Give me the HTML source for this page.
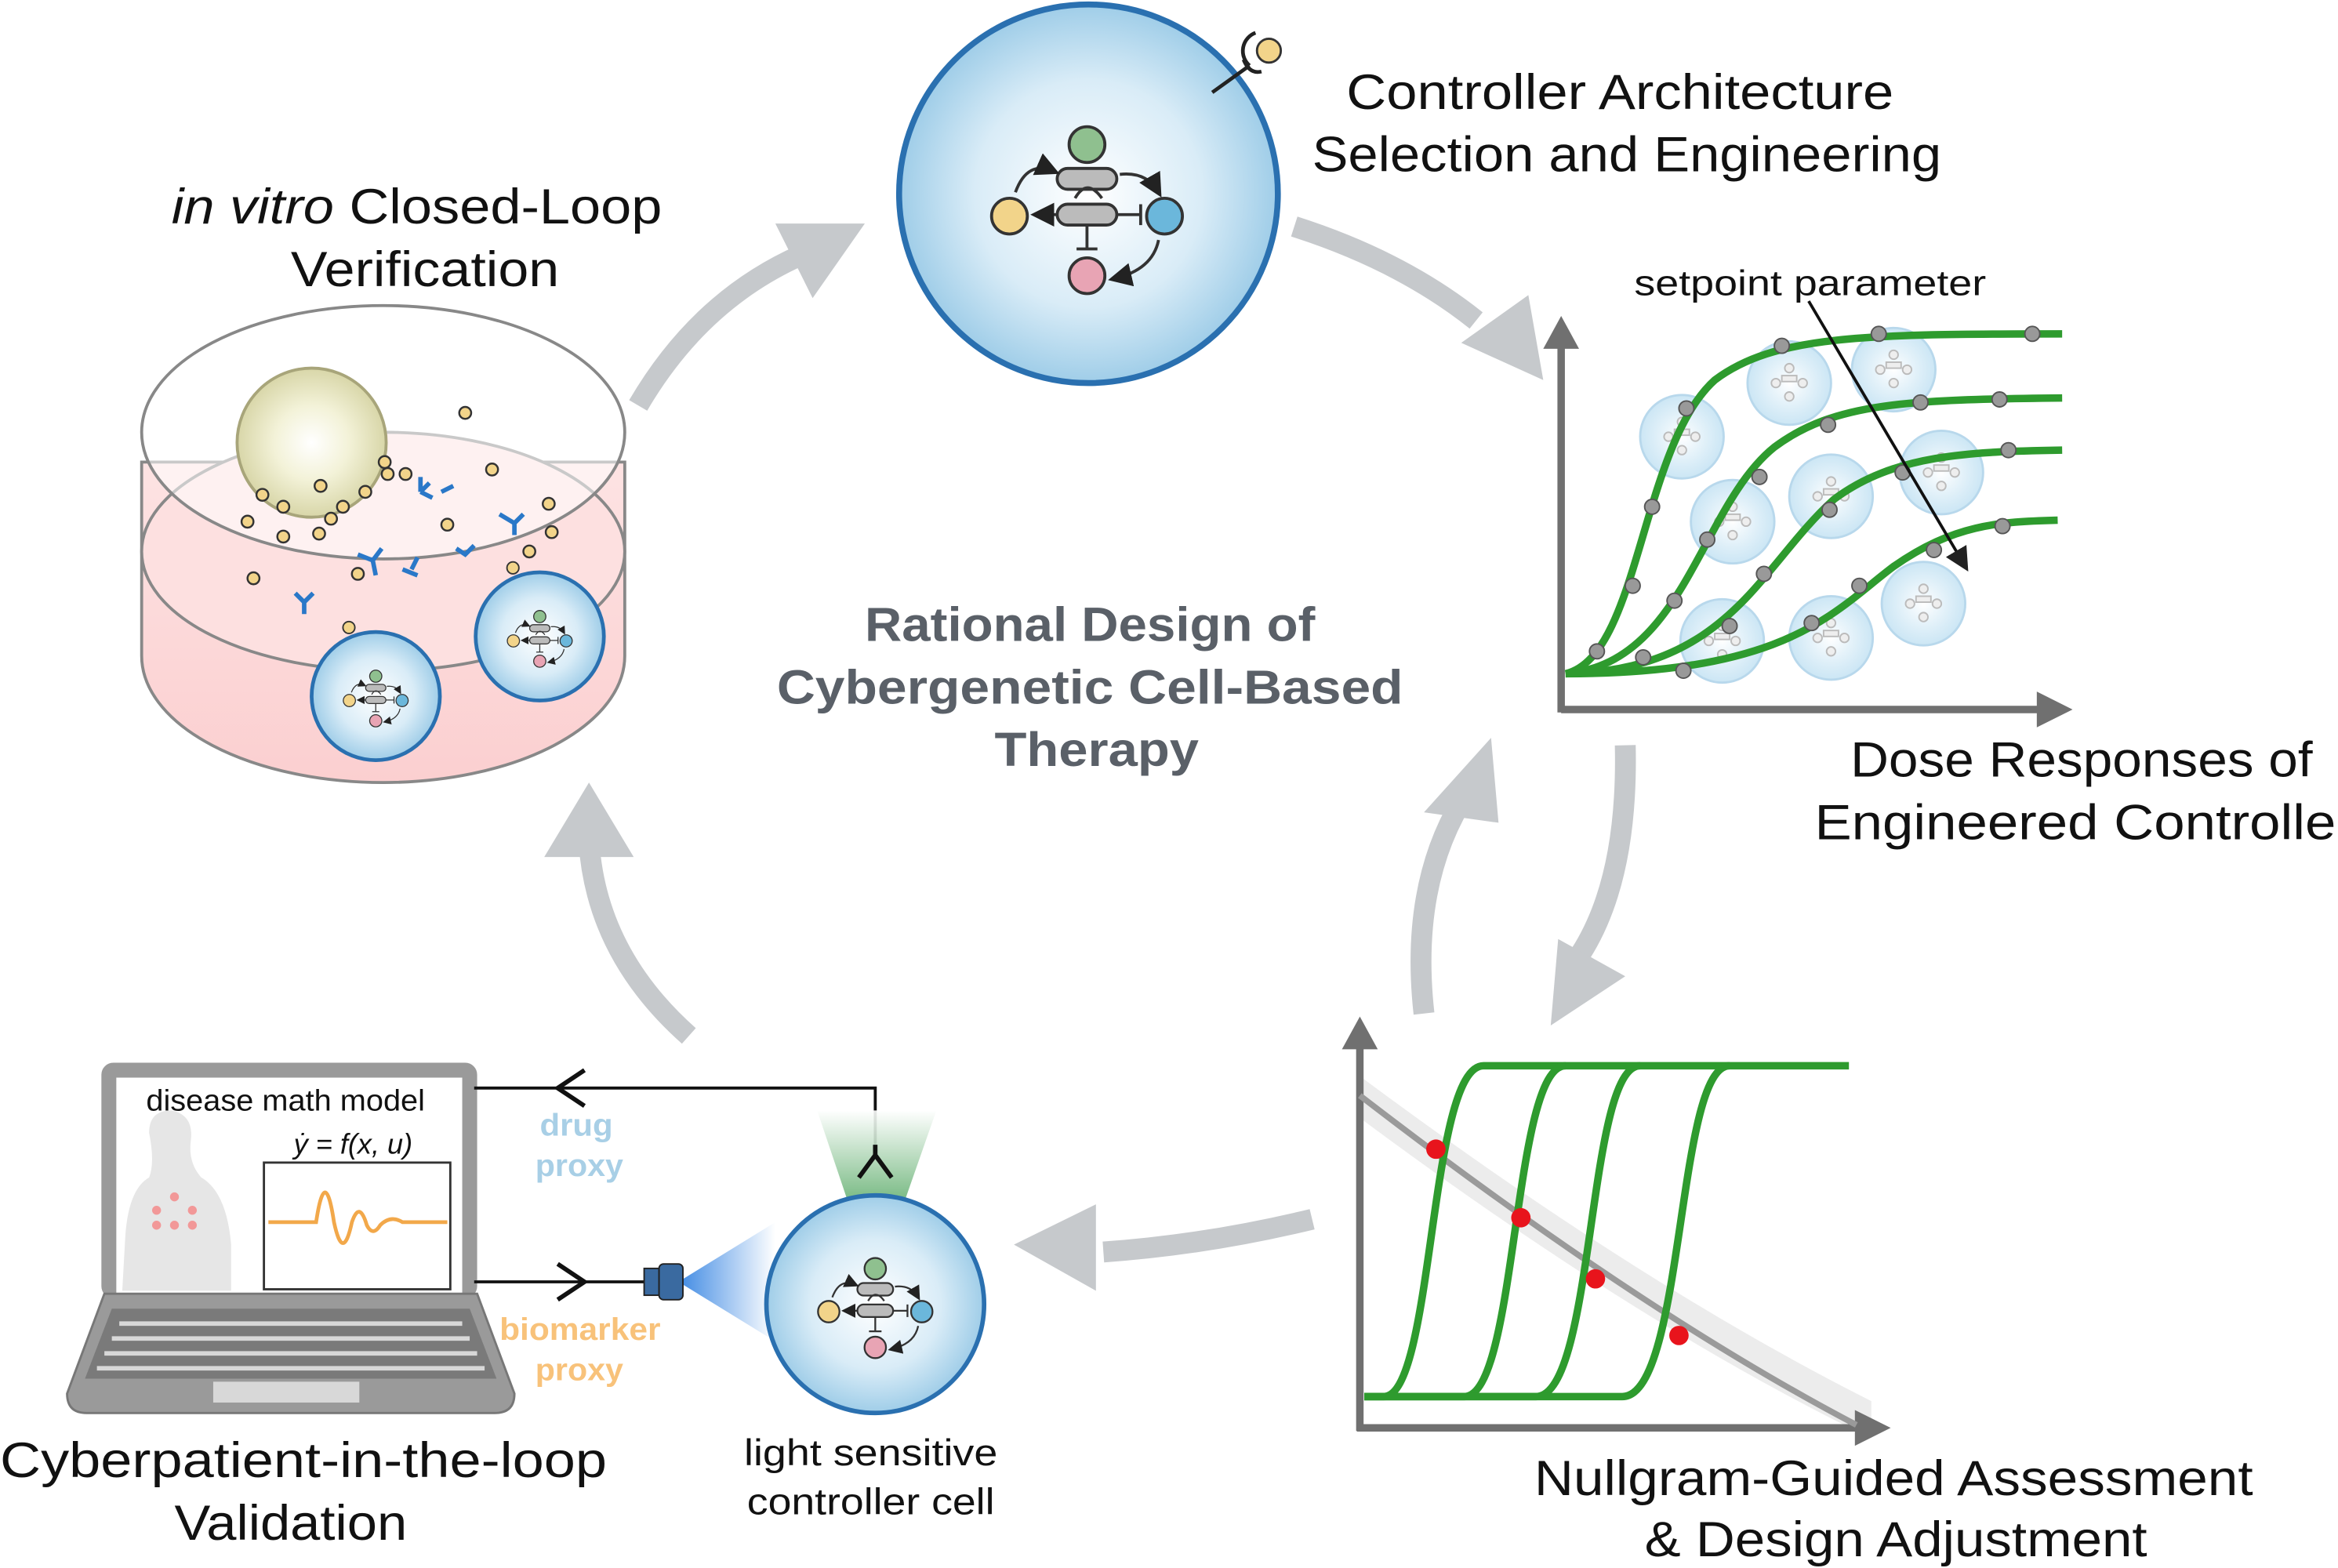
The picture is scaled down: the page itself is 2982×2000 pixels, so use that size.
<!DOCTYPE html>
<html><head><meta charset="utf-8"><style>
html,body{margin:0;padding:0;background:#fff;}
svg{display:block;}
text{font-family:"Liberation Sans",sans-serif;}
</style></head><body>
<svg width="2982" height="2000" viewBox="0 0 1568 1052" preserveAspectRatio="none" xmlns="http://www.w3.org/2000/svg">
<defs>
<radialGradient id="cg" cx="50%" cy="50%" r="50%"><stop offset="0" stop-color="#ffffff"/><stop offset="0.6" stop-color="#d9ecf7"/><stop offset="1" stop-color="#9fcde8"/></radialGradient>
<radialGradient id="fg" cx="50%" cy="50%" r="50%"><stop offset="0" stop-color="#ffffff" stop-opacity="0.9"/><stop offset="1" stop-color="#bfe0f2" stop-opacity="0.8"/></radialGradient>
<radialGradient id="nuc" cx="50%" cy="50%" r="50%"><stop offset="0" stop-color="#ffffff"/><stop offset="0.5" stop-color="#f3f2d8"/><stop offset="1" stop-color="#d8d6a8"/></radialGradient>
<linearGradient id="dish" x1="0" y1="0" x2="0" y2="1"><stop offset="0" stop-color="#fde3e3"/><stop offset="1" stop-color="#fbcfd0"/></linearGradient>
<linearGradient id="beam" x1="0" y1="0" x2="0" y2="1"><stop offset="0" stop-color="#ffffff"/><stop offset="1" stop-color="#3a9a4a"/></linearGradient>
<linearGradient id="beam2" x1="1" y1="0" x2="0" y2="0"><stop offset="0" stop-color="#ffffff"/><stop offset="1" stop-color="#2a7de0"/></linearGradient>
<marker id="ah" markerWidth="8" markerHeight="8" refX="6" refY="4" orient="auto"><path d="M0,0 L8,4 L0,8 z" fill="#222"/></marker>
<g id="net">
<circle cx="0" cy="-48" r="12" fill="#8fc08f" stroke="#333" stroke-width="2"/>
<circle cx="-52" cy="0" r="12" fill="#f2d48a" stroke="#333" stroke-width="2"/>
<circle cx="52" cy="0" r="12" fill="#6bb7db" stroke="#333" stroke-width="2"/>
<circle cx="0" cy="40" r="12" fill="#e8a4b4" stroke="#333" stroke-width="2"/>
<rect x="-20" y="-32" width="40" height="14" rx="7" fill="#bbb" stroke="#333" stroke-width="2"/>
<rect x="-20" y="-8" width="40" height="14" rx="7" fill="#bbb" stroke="#333" stroke-width="2"/>
<path d="M-20,-1 L-34,-1" stroke="#333" stroke-width="2" marker-end="url(#ah)"/>
<path d="M20,-1 L36,-1 M36,-8 L36,6" stroke="#333" stroke-width="2"/>
<path d="M0,6 L0,22 M-7,22 L7,22" stroke="#333" stroke-width="2"/>
<path d="M-48,-16 Q-40,-38 -22,-30" fill="none" stroke="#333" stroke-width="2" marker-end="url(#ah)"/>
<path d="M22,-28 Q40,-30 48,-16" fill="none" stroke="#333" stroke-width="2" marker-end="url(#ah)"/>
<path d="M48,16 Q44,36 18,42" fill="none" stroke="#333" stroke-width="2" marker-end="url(#ah)"/>
<path d="M-8,-12 Q0,-26 10,-12" fill="none" stroke="#333" stroke-width="2"/>
</g>
<g id="mini"><circle r="28" fill="url(#fg)" stroke="#b8d8ec" stroke-width="1.5"/>
<g stroke="#bbb" fill="#eee" stroke-width="1"><circle cx="0" cy="-10" r="3"/><circle cx="-9" cy="0" r="3"/><circle cx="9" cy="0" r="3"/><circle cx="0" cy="9" r="3"/><rect x="-5" y="-5" width="10" height="4"/></g></g>
</defs>
<rect width="1568" height="1052" fill="#fff"/>

<g fill="none" stroke="#c6c9cc" stroke-width="14">
<path d="M428,272 Q470,200 540,170"/>
<path d="M868,152 Q940,175 990,215"/>
<path d="M1090,500 Q1092,590 1060,640"/>
<path d="M955,680 Q945,590 985,530"/>
<path d="M880,818 Q810,835 740,840"/>
<path d="M462,695 Q400,640 395,565"/>
</g>
<g fill="#c6c9cc">
<polygon points="580,150 520,150 545,200"/>
<polygon points="1035,255 980,230 1025,198"/>
<polygon points="1040,688 1045,630 1090,655"/>
<polygon points="1000,495 955,545 1005,552"/>
<polygon points="680,835 735,808 735,866"/>
<polygon points="395,525 365,575 425,575"/>
</g>

<circle cx="730" cy="130" r="127" fill="url(#cg)" stroke="#2a70b0" stroke-width="4"/>
<use href="#net" transform="translate(729,145)"/>
<line x1="813" y1="62" x2="838" y2="44" stroke="#222" stroke-width="2.5"/>
<path d="M834,40 Q838,50 846,48" fill="none" stroke="#222" stroke-width="2.5"/>
<circle cx="851" cy="34" r="8" fill="#f2d48a" stroke="#333" stroke-width="1.5"/>
<path d="M838,44 a13,13 0 0 1 4,-22" fill="none" stroke="#222" stroke-width="2.5"/>
<text x="903" y="73" font-size="33" textLength="367" lengthAdjust="spacingAndGlyphs" fill="#111">Controller Architecture</text>
<text x="880" y="115" font-size="33" textLength="422" lengthAdjust="spacingAndGlyphs" fill="#111">Selection and Engineering</text>

<path d="M95,310 L95,440 A162,85 0 0 0 419,440 L419,310 Z" fill="url(#dish)" stroke="#888" stroke-width="2"/>
<ellipse cx="257" cy="370" rx="162" ry="80" fill="#fde0e0" stroke="#888" stroke-width="2"/>
<ellipse cx="257" cy="290" rx="162" ry="85" fill="#fff" fill-opacity="0.55" stroke="#888" stroke-width="2"/>
<circle cx="209" cy="297" r="50" fill="url(#nuc)" stroke="#a8a57a" stroke-width="2"/>
<g fill="#f2d48a" stroke="#333" stroke-width="1.3">
<circle cx="312" cy="277" r="4"/><circle cx="176" cy="332" r="4"/><circle cx="190" cy="340" r="4"/><circle cx="215" cy="326" r="4"/><circle cx="230" cy="340" r="4"/><circle cx="245" cy="330" r="4"/><circle cx="260" cy="318" r="4"/><circle cx="166" cy="350" r="4"/><circle cx="190" cy="360" r="4"/><circle cx="214" cy="358" r="4"/><circle cx="222" cy="348" r="4"/><circle cx="258" cy="310" r="4"/><circle cx="272" cy="318" r="4"/><circle cx="330" cy="315" r="4"/><circle cx="368" cy="338" r="4"/><circle cx="370" cy="357" r="4"/><circle cx="355" cy="370" r="4"/><circle cx="170" cy="388" r="4"/><circle cx="240" cy="385" r="4"/><circle cx="300" cy="352" r="4"/>
</g>
<g stroke="#2a78c8" stroke-width="3" fill="none">
<path d="M282,330 l6,-6 m-6,6 l8,4 m-8,-4 l0,-10"/><path d="M335,345 l10,6 l6,-6 m-6,6 l0,8"/>
<path d="M240,372 l10,4 l6,-8 m-6,8 l2,10"/><path d="M270,382 l10,4 m-4,-4 l4,-8"/>
<path d="M306,368 l6,4 l6,-6"/><path d="M198,398 l6,6 l6,-6 m-6,6 l0,8"/><path d="M296,330 l8,-4"/>
</g>
<circle cx="252" cy="467" r="43" fill="url(#cg)" stroke="#2a70b0" stroke-width="2.5"/>
<use href="#net" transform="translate(252,470) scale(0.34)"/>
<circle cx="362" cy="427" r="43" fill="url(#cg)" stroke="#2a70b0" stroke-width="2.5"/>
<use href="#net" transform="translate(362,430) scale(0.34)"/>
<circle cx="234" cy="421" r="4" fill="#f2d48a" stroke="#333"/><circle cx="344" cy="381" r="4" fill="#f2d48a" stroke="#333"/>
<text x="115" y="150" font-size="33" textLength="329" lengthAdjust="spacingAndGlyphs" fill="#111"><tspan font-style="italic">in vitro</tspan> Closed-Loop</text>
<text x="195" y="192" font-size="33" textLength="180" lengthAdjust="spacingAndGlyphs" fill="#111">Verification</text>

<g font-size="32" font-weight="bold" fill="#5a6068">
<text x="580" y="430" textLength="302" lengthAdjust="spacingAndGlyphs">Rational Design of</text>
<text x="521" y="472" textLength="420" lengthAdjust="spacingAndGlyphs">Cybergenetic Cell-Based</text>
<text x="667" y="514" textLength="137" lengthAdjust="spacingAndGlyphs">Therapy</text>
</g>

<g stroke="#707070" stroke-width="5" fill="none"><path d="M1047,478 L1047,230"/><path d="M1047,476 L1370,476"/></g>
<polygon points="1047,212 1035,234 1059,234" fill="#707070"/>
<polygon points="1390,476 1366,464 1366,488" fill="#707070"/>
<use href="#mini" transform="translate(1128,293)"/><use href="#mini" transform="translate(1200,257)"/><use href="#mini" transform="translate(1270,248)"/>
<use href="#mini" transform="translate(1162,350)"/><use href="#mini" transform="translate(1228,333)"/><use href="#mini" transform="translate(1302,317)"/>
<use href="#mini" transform="translate(1155,430)"/><use href="#mini" transform="translate(1228,428)"/><use href="#mini" transform="translate(1290,405)"/>
<g stroke="#2e9b2e" stroke-width="5" fill="none">
<path d="M1050,452 C1100,440 1100,300 1150,255 C1190,225 1250,224 1383,224"/>
<path d="M1050,452 C1130,445 1140,340 1190,300 C1230,270 1280,268 1383,267"/>
<path d="M1050,452 C1160,450 1180,380 1230,335 C1270,305 1320,303 1383,302"/>
<path d="M1050,452 C1200,452 1230,410 1270,380 C1310,352 1340,350 1380,349"/>
</g>
<g fill="#999" stroke="#555" stroke-width="1">
<circle cx="1071" cy="437" r="5"/><circle cx="1095" cy="393" r="5"/><circle cx="1108" cy="340" r="5"/><circle cx="1131" cy="274" r="5"/><circle cx="1195" cy="232" r="5"/><circle cx="1260" cy="224" r="5"/><circle cx="1363" cy="224" r="5"/>
<circle cx="1102" cy="441" r="5"/><circle cx="1123" cy="403" r="5"/><circle cx="1145" cy="362" r="5"/><circle cx="1180" cy="320" r="5"/><circle cx="1226" cy="285" r="5"/><circle cx="1288" cy="270" r="5"/><circle cx="1341" cy="268" r="5"/>
<circle cx="1129" cy="450" r="5"/><circle cx="1160" cy="420" r="5"/><circle cx="1183" cy="385" r="5"/><circle cx="1227" cy="342" r="5"/><circle cx="1276" cy="317" r="5"/><circle cx="1347" cy="302" r="5"/>
<circle cx="1215" cy="418" r="5"/><circle cx="1247" cy="393" r="5"/><circle cx="1297" cy="369" r="5"/><circle cx="1343" cy="353" r="5"/>
</g>
<line x1="1213" y1="202" x2="1318" y2="380" stroke="#111" stroke-width="2" marker-end="url(#ah)"/>
<text x="1096" y="198" font-size="24" textLength="236" lengthAdjust="spacingAndGlyphs" fill="#111">setpoint parameter</text>
<text x="1241" y="521" font-size="33" textLength="310" lengthAdjust="spacingAndGlyphs" fill="#111">Dose Responses of</text>
<text x="1217" y="563" font-size="33" textLength="362" lengthAdjust="spacingAndGlyphs" fill="#111">Engineered Controller</text>

<path d="M912,722 Q1100,862 1255,940 L1255,965 Q1100,890 912,750 Z" fill="#ececec"/>
<g stroke="#707070" stroke-width="5" fill="none"><path d="M912,960 L912,700"/><path d="M910,958 L1248,958"/></g>
<polygon points="912,682 900,704 924,704" fill="#707070"/>
<polygon points="1268,958 1244,946 1244,970" fill="#707070"/>
<path d="M912,735 Q1100,880 1245,956" stroke="#9a9a9a" stroke-width="4" fill="none"/>
<g stroke="#2e9b2e" stroke-width="5" fill="none">
<path d="M915,937 L928,937 C962,937 958,715 995,715 L1240,715"/>
<path d="M915,937 L982,937 C1018,937 1014,715 1050,715"/>
<path d="M915,937 L1030,937 C1070,937 1064,715 1100,715"/>
<path d="M915,937 L1088,937 C1130,937 1124,715 1160,715"/>
</g>
<g fill="#e8141c"><circle cx="963" cy="771" r="6.5"/><circle cx="1020" cy="817" r="6.5"/><circle cx="1070" cy="858" r="6.5"/><circle cx="1126" cy="896" r="6.5"/></g>
<text x="1029" y="1003" font-size="33" textLength="482" lengthAdjust="spacingAndGlyphs" fill="#111">Nullgram-Guided Assessment</text>
<text x="1103" y="1044" font-size="33" textLength="337" lengthAdjust="spacingAndGlyphs" fill="#111">&amp; Design Adjustment</text>

<rect x="68" y="713" width="252" height="158" rx="8" fill="#9a9a9a"/>
<rect x="78" y="723" width="232" height="145" fill="#fff"/>
<path d="M70,868 L320,868 L345,935 Q345,948 332,948 L58,948 Q45,948 45,935 Z" fill="#9a9a9a" stroke="#777" stroke-width="1.5"/>
<path d="M75,878 L315,878 L333,925 L57,925 Z" fill="#7a7a7a"/>
<g stroke="#d8d8d8" stroke-width="3"><path d="M80,888 L310,888 M75,898 L315,898 M70,908 L320,908 M65,918 L325,918"/></g>
<rect x="143" y="927" width="98" height="14" fill="#d8d8d8"/>
<path d="M100,760 Q100,745 115,745 Q130,748 128,765 Q126,780 135,790 Q152,800 155,835 L155,866 L82,866 L84,830 Q86,798 100,790 Q104,780 100,760 Z" fill="#e6e6e6"/>
<g fill="#f29898"><circle cx="105" cy="812" r="3"/><circle cx="117" cy="803" r="3"/><circle cx="117" cy="822" r="3"/><circle cx="129" cy="812" r="3"/><circle cx="105" cy="822" r="3"/><circle cx="129" cy="822" r="3"/></g>
<rect x="177" y="780" width="125" height="85" fill="#fff" stroke="#333" stroke-width="1.5"/>
<path d="M180,820 L212,820 Q218,780 224,820 Q230,848 236,820 Q241,805 246,822 Q250,830 255,822 Q262,815 270,820 L300,820" fill="none" stroke="#f2a84a" stroke-width="2.5"/>
<text x="98" y="745" font-size="20" textLength="187" lengthAdjust="spacingAndGlyphs" fill="#111">disease math model</text>
<text x="197" y="774" font-size="19" font-style="italic" fill="#111" font-family="Liberation Serif,serif">ẏ = f(x, u)</text>

<path d="M318,730 L587,730 L587,768" fill="none" stroke="#111" stroke-width="2"/>
<path d="M392,718 L374,730 L392,742" fill="none" stroke="#111" stroke-width="3"/>
<path d="M318,860 L432,860" fill="none" stroke="#111" stroke-width="2"/>
<path d="M374,848 L392,860 L374,872" fill="none" stroke="#111" stroke-width="3"/>
<text x="362" y="762" font-size="21" font-weight="bold" textLength="49" lengthAdjust="spacingAndGlyphs" fill="#a8cfe6">drug</text>
<text x="359" y="789" font-size="21" font-weight="bold" textLength="59" lengthAdjust="spacingAndGlyphs" fill="#a8cfe6">proxy</text>
<text x="335" y="899" font-size="21" font-weight="bold" textLength="108" lengthAdjust="spacingAndGlyphs" fill="#f8c27a">biomarker</text>
<text x="359" y="926" font-size="21" font-weight="bold" textLength="59" lengthAdjust="spacingAndGlyphs" fill="#f8c27a">proxy</text>

<polygon points="548,745 628,745 600,825 575,825" fill="url(#beam)" opacity="0.9"/>
<polygon points="455,860 520,820 520,900" fill="url(#beam2)" opacity="0.9"/>
<circle cx="587" cy="875" r="73" fill="url(#cg)" stroke="#2a70b0" stroke-width="3"/>
<use href="#net" transform="translate(587,880) scale(0.6)"/>
<path d="M576,790 L587,775 L598,790 M587,775 L587,768" fill="none" stroke="#111" stroke-width="3"/>
<rect x="432" y="851" width="10" height="18" fill="#3a6aa0" stroke="#222"/>
<rect x="442" y="848" width="16" height="24" rx="3" fill="#3a6aa0" stroke="#222"/>
<text x="499" y="983" font-size="25" textLength="170" lengthAdjust="spacingAndGlyphs" fill="#111">light sensitive</text>
<text x="501" y="1016" font-size="25" textLength="166" lengthAdjust="spacingAndGlyphs" fill="#111">controller cell</text>
<text x="0" y="991" font-size="33" textLength="407" lengthAdjust="spacingAndGlyphs" fill="#111">Cyberpatient-in-the-loop</text>
<text x="117" y="1033" font-size="33" textLength="156" lengthAdjust="spacingAndGlyphs" fill="#111">Validation</text>
</svg>
</body></html>
